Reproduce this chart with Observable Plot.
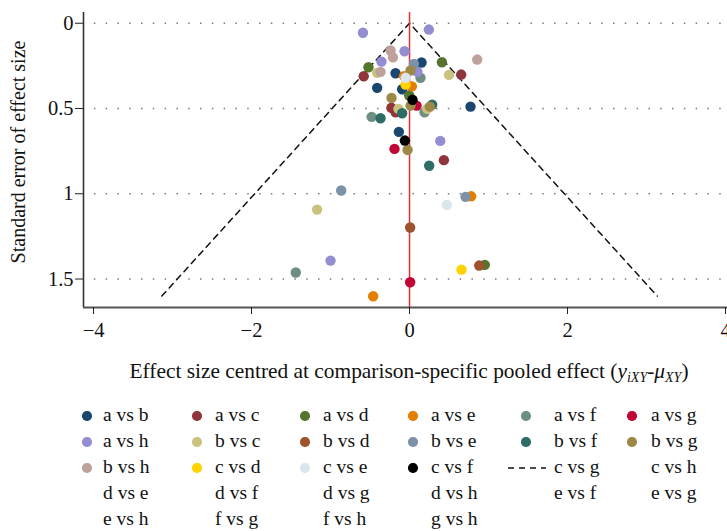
<!DOCTYPE html>
<html><head><meta charset="utf-8">
<script src="https://cdn.jsdelivr.net/npm/d3@7"></script>
<script src="https://cdn.jsdelivr.net/npm/@observablehq/plot@0.6"></script>
<style>
html,body{margin:0;padding:0;background:#fff;overflow:hidden;}
#wrap{position:relative;width:727px;height:531px;font-family:"Liberation Serif","Times New Roman",serif;color:#111;overflow:hidden;}
#chart{position:absolute;left:0;top:0;}
.ylab{position:absolute;left:18px;top:152px;transform:translate(-50%,-50%) rotate(-90deg);white-space:nowrap;font-size:20px;}
.xlab{position:absolute;left:409px;top:372px;transform:translate(-50%,-50%);white-space:nowrap;font-size:21.4px;}
.xlab sub{font-size:14px;vertical-align:-4px;}
.item{position:absolute;font-size:19.5px;white-space:nowrap;line-height:1;}
.key{position:absolute;}
</style></head><body>
<div id="wrap"><div id="chart"></div></div>
<script>
// ---- data ----
const comparisons = ["a vs b","a vs c","a vs d","a vs e","a vs f","a vs g","a vs h","b vs c","b vs d","b vs e","b vs f","b vs g","b vs h","c vs d","c vs e","c vs f","c vs g","c vs h","d vs e","d vs f","d vs g","d vs h","e vs f","e vs g","e vs h","f vs g","f vs h","g vs h"];
const seriesColors = ["#1a476f","#90353b","#55752f","#e37e00","#6e8e84","#c10534","#938dd2","#cac27e","#a0522d","#7b92a8","#2d6d66","#9c8847","#bfa19c","#ffd200","#d9e6eb","#000000"];
const pointComparison = [
  "a vs b","a vs b","a vs b","a vs b","a vs b","a vs b",
  "a vs c","a vs c","a vs c","a vs c","a vs c",
  "a vs d","a vs d","a vs d","a vs d",
  "a vs e","a vs e","a vs e","a vs e",
  "a vs f","a vs f","a vs f","a vs f",
  "a vs g","a vs g","a vs g",
  "a vs h","a vs h","a vs h","a vs h","a vs h","a vs h","a vs h",
  "b vs c","b vs c","b vs c","b vs c","b vs c",
  "b vs d","b vs d",
  "b vs e","b vs e","b vs e",
  "b vs f","b vs f","b vs f","b vs f",
  "b vs g","b vs g","b vs g","b vs g","b vs g",
  "b vs h","b vs h","b vs h","b vs h",
  "c vs d","c vs d",
  "c vs e","c vs e",
  "c vs f","c vs f"
];
const pointEffect = [
  0.152,-0.177,-0.41,-0.093,0.772,-0.135,
  -0.58,0.654,-0.23,-0.177,0.435,
  0.41,-0.52,-0.004,0.953,
  0.03,-0.07,0.78,-0.46,
  0.139,0.19,-0.48,-1.44,
  0.089,-0.19,0.008,
  -0.59,0.245,-0.063,-0.355,0.389,-1.0,0.1,
  -0.41,0.5,-0.14,0.224,-1.17,
  0.008,0.882,
  0.055,-0.865,0.709,
  -0.093,0.287,-0.367,0.249,
  0.013,-0.228,0.013,0.257,-0.025,
  -0.24,-0.21,0.857,-0.367,
  -0.05,0.658,
  -0.05,0.473,
  0.038,-0.059
];
const pointSE = [
  0.23,0.293,0.379,0.387,0.489,0.637,
  0.311,0.301,0.496,0.522,0.803,
  0.229,0.258,0.424,1.417,
  0.37,0.31,1.015,1.601,
  0.32,0.522,0.549,1.462,
  0.483,0.737,1.519,
  0.056,0.037,0.164,0.225,0.69,1.392,0.285,
  0.291,0.303,0.502,0.502,1.093,
  1.198,1.421,
  0.238,0.981,1.018,
  0.528,0.477,0.557,0.836,
  0.277,0.438,0.483,0.489,0.743,
  0.16,0.20,0.213,0.285,
  0.36,1.445,
  0.32,1.065,
  0.449,0.688
];
const funnelEffect = [-3.136, 0, 3.136];
const funnelSE = [1.6, 0, 1.6];
const xTicks = [-4, -2, 0, 2, 4];
const yTicks = [0, 0.5, 1, 1.5];
const yTickLabels = ["0", "0.5", "1", "1.5"];

// ---- build ----
const points = pointComparison.map((c, i) => ({comparison: c, effect: pointEffect[i], se: pointSE[i]}));
const funnel = funnelEffect.map((x, i) => ({effect: x, se: funnelSE[i]}));
const xDom = [-4.127, 4.025], yDom = [1.667, -0.063];
const coloured = comparisons.slice(0, seriesColors.length);

const plot = Plot.plot({
  width: 727, height: 345,
  marginLeft: 83, marginRight: 0, marginTop: 12, marginBottom: 38,
  style: {fontFamily: '"Liberation Serif","Times New Roman",serif', fontSize: "20.5px", color: "#111", background: "#fff", overflow: "visible"},
  x: {domain: xDom},
  y: {domain: yDom},
  color: {domain: coloured, range: seriesColors},
  marks: [
    Plot.ruleY(yTicks, {y: d => d, x1: -3.99, x2: xDom[1], stroke: "#7a7a7a", strokeWidth: 1.5, strokeDasharray: "1.5,10.3"}),
    Plot.line(funnel, {x: "effect", y: "se", stroke: "#111", strokeWidth: 1.5, strokeDasharray: "6,5"}),
    Plot.ruleX([0], {y1: yDom[1], y2: yDom[0], stroke: "#e8303a", strokeWidth: 1.5}),
    Plot.dot(points, {x: "effect", y: "se", fill: "comparison", r: 5.2}),
    Plot.ruleX([xDom[0]], {y1: yDom[1], y2: yDom[0], stroke: "#333", strokeWidth: 1.6}),
    Plot.ruleY([yDom[0]], {x1: xDom[0], x2: xDom[1], stroke: "#555", strokeWidth: 2.2}),
    Plot.axisX({ticks: xTicks, tickSize: 7, tickPadding: 8, label: null, stroke: "#222"}),
    Plot.axisY({ticks: yTicks, tickFormat: (d, i) => yTickLabels[i], tickSize: 8, tickPadding: 2, label: null, stroke: "#222"})
  ]
});
const wrap = document.getElementById("wrap");
document.getElementById("chart").appendChild(plot);

// axis titles
const ylab = document.createElement("div");
ylab.className = "ylab"; ylab.textContent = "Standard error of effect size";
wrap.appendChild(ylab);
const xlab = document.createElement("div");
xlab.className = "xlab";
xlab.innerHTML = "Effect size centred at comparison-specific pooled effect (<i>y</i><sub><i>iXY</i></sub>-<i>μ</i><sub><i>XY</i></sub>)";
wrap.appendChild(xlab);

// legend
const keyX = [87, 197, 305, 413, 526, 632];
const textX = [103, 215, 323, 431, 554, 651];
const rowY = [416, 442, 468, 494, 520];
comparisons.forEach((name, i) => {
  const col = i % 6, row = Math.floor(i / 6);
  const cy = rowY[row];
  if (i < seriesColors.length) {
    const k = document.createElement("div");
    k.className = "key";
    k.style.cssText = `left:${keyX[col]-4.7}px;top:${cy-4.7}px;width:9.4px;height:9.4px;border-radius:50%;background:${seriesColors[i]};`;
    wrap.appendChild(k);
  } else if (name === "c vs g") {
    const k = document.createElementNS("http://www.w3.org/2000/svg", "svg");
    k.setAttribute("width", 40); k.setAttribute("height", 6);
    k.style.cssText = `position:absolute;left:${keyX[col]-18}px;top:${cy-3}px;`;
    k.innerHTML = '<line x1="0" y1="3" x2="38" y2="3" stroke="#111" stroke-width="1.5" stroke-dasharray="6,5"/>';
    wrap.appendChild(k);
  }
  const t = document.createElement("div");
  t.className = "item";
  t.textContent = name;
  t.style.left = textX[col] + "px";
  t.style.top = (cy - 11) + "px";
  wrap.appendChild(t);
});
</script>
</body></html>
